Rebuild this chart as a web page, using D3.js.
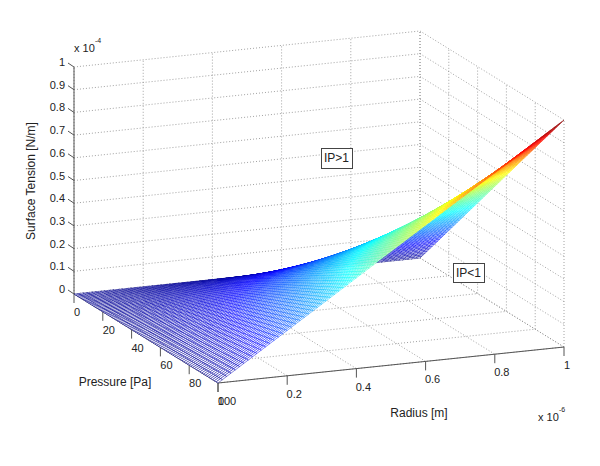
<!DOCTYPE html>
<html>
<head>
<meta charset="utf-8">
<script src="https://cdn.jsdelivr.net/npm/d3@7/dist/d3.min.js"></script>
<style>
  html, body { margin: 0; padding: 0; background: #fff; }
  svg { display: block; }
  text { font-family: "Liberation Sans", Arial, sans-serif; fill: #222; }
</style>
</head>
<body>
<svg id="chart" width="600" height="466"></svg>
<script>
// values
const radiusTicks = [0, 0.2, 0.4, 0.6, 0.8, 1];           // x 10^-6 m
const pressureTicks = [0, 20, 40, 60, 80, 100];           // Pa
const tensionTicks = [0, 0.1, 0.2, 0.3, 0.4, 0.5, 0.6, 0.7, 0.8, 0.9, 1]; // x 10^-4 N/m

// surface tension at each pressure tick (rows) and radius tick (columns)
const tension = [
  [0, 0,    0,    0,    0,    0],
  [0, 0.04, 0.08, 0.12, 0.16, 0.2],
  [0, 0.08, 0.16, 0.24, 0.32, 0.4],
  [0, 0.12, 0.24, 0.36, 0.48, 0.6],
  [0, 0.16, 0.32, 0.48, 0.64, 0.8],
  [0, 0.2,  0.4,  0.6,  0.8,  1]
];

const svg = d3.select("#chart");

// oblique box: each axis is a scale to a pixel offset along x and y
const origin = [74, 294];
const rX = d3.scaleLinear().domain([0, 1]).range([0, 346]);
const rY = d3.scaleLinear().domain([0, 1]).range([0, -36]);
const pX = d3.scaleLinear().domain([0, 100]).range([0, 144]);
const pY = d3.scaleLinear().domain([0, 100]).range([0, 89]);
const zY = d3.scaleLinear().domain([0, 1]).range([0, -227]);

function project(r, p, z) {
  return [origin[0] + rX(r) + pX(p), origin[1] + rY(r) + pY(p) + zY(z)];
}

const jet = d3.scaleLinear()
  .domain([0, 0.125, 0.375, 0.625, 0.875, 1])
  .range(["#00008f", "#0000ff", "#00ffff", "#ffff00", "#ff0000", "#800000"]);

// grid on the two walls and the floor
const grid = svg.append("g")
  .attr("fill", "none")
  .attr("stroke", "#8a8a8a")
  .attr("stroke-width", 0.8)
  .attr("stroke-dasharray", "1 2");

function gridLine(a, b) {
  grid.append("line")
    .attr("x1", a[0]).attr("y1", a[1])
    .attr("x2", b[0]).attr("y2", b[1]);
}

tensionTicks.forEach(z => {
  gridLine(project(0, 0, z), project(1, 0, z));
  gridLine(project(1, 0, z), project(1, 100, z));
});
radiusTicks.forEach(r => {
  gridLine(project(r, 0, 0), project(r, 0, 1));
  gridLine(project(r, 0, 0), project(r, 100, 0));
});
pressureTicks.forEach(p => {
  gridLine(project(1, p, 0), project(1, p, 1));
  gridLine(project(0, p, 0), project(1, p, 0));
});

// axis lines and ticks
const axes = svg.append("g").attr("stroke", "#555").attr("stroke-width", 1).attr("fill", "none");

function axisLine(a, b) {
  axes.append("line")
    .attr("x1", a[0]).attr("y1", a[1])
    .attr("x2", b[0]).attr("y2", b[1]);
}

axisLine(project(0, 0, 0), project(0, 0, 1));
axisLine(project(0, 0, 0), project(0, 100, 0));
axisLine(project(0, 100, 0), project(1, 100, 0));

pressureTicks.forEach(p => {
  const a = project(0, p, 0);
  axisLine(a, [a[0], a[1] + 9]);
});
radiusTicks.forEach(r => {
  const a = project(r, 100, 0);
  axisLine(a, [a[0], a[1] + 9]);
});
tensionTicks.forEach(z => {
  const a = project(0, 0, z);
  axisLine(a, [a[0] - 6, a[1] - 4]);
});

// surface, drawn far to near. The mesh subdivides the table above for drawing
const meshSize = 80;
const rowOf = d3.scaleLinear().domain([0, 100]).range([0, pressureTicks.length - 1]);
const colOf = d3.scaleLinear().domain([0, 1]).range([0, radiusTicks.length - 1]);

function tensionAt(r, p) {
  const a = rowOf(p), b = colOf(r);
  const i = Math.min(Math.floor(a), tension.length - 2);
  const j = Math.min(Math.floor(b), tension[0].length - 2);
  const lo = d3.interpolateNumber(tension[i][j], tension[i][j + 1])(b - j);
  const hi = d3.interpolateNumber(tension[i + 1][j], tension[i + 1][j + 1])(b - j);
  return d3.interpolateNumber(lo, hi)(a - i);
}

const meshR = d3.range(meshSize + 1).map(d => d / meshSize);
const meshP = d3.range(meshSize + 1).map(d => d * 100 / meshSize);
const surface = svg.append("g").attr("stroke-width", 0.5).attr("fill", "#fff");
const line = d3.line();

for (let j = meshSize - 1; j >= 0; j--) {
  for (let i = 0; i < meshSize; i++) {
    const corners = [
      [meshR[j], meshP[i]], [meshR[j + 1], meshP[i]],
      [meshR[j + 1], meshP[i + 1]], [meshR[j], meshP[i + 1]]
    ];
    const zs = corners.map(c => tensionAt(c[0], c[1]));
    surface.append("path")
      .attr("d", line(corners.map((c, k) => project(c[0], c[1], zs[k]))) + "Z")
      .attr("stroke", jet(d3.mean(zs)));
  }
}

// tick labels
const labels = svg.append("g").attr("font-size", 11).attr("text-anchor", "middle");

tensionTicks.forEach(z => {
  const a = project(0, 0, z);
  labels.append("text")
    .attr("x", 65).attr("y", a[1] - 1)
    .attr("text-anchor", "end")
    .text(z);
});
pressureTicks.forEach((p, i) => {
  const a = project(0, p, 0);
  labels.append("text")
    .attr("x", a[0] + (i === 0 ? 3 : p === 100 ? 9 : 6)).attr("y", a[1] + 22)
    .text(p);
});
radiusTicks.forEach(r => {
  const a = project(r, 100, 0);
  labels.append("text")
    .attr("x", a[0] + (r === 0 || r === 1 ? 3 : 7)).attr("y", a[1] + 22)
    .text(r);
});

// axis titles
const titles = svg.append("g").attr("font-size", 12).attr("text-anchor", "middle");
titles.append("text").attr("x", 115).attr("y", 386).text("Pressure [Pa]");
titles.append("text").attr("x", 419).attr("y", 417).text("Radius [m]");
titles.append("text")
  .attr("transform", "translate(35,181) rotate(-90)")
  .text("Surface Tension [N/m]");

// exponents
function exponent(x, y, power) {
  const g = svg.append("g");
  g.append("text").attr("x", x).attr("y", y).attr("font-size", 11).text("x 10");
  g.append("text").attr("x", x + 21).attr("y", y - 9).attr("font-size", 7).text(power);
}
exponent(74, 52, "-4");
exponent(538, 421, "-6");

// annotations
function note(x, y, w, h, label) {
  svg.append("rect")
    .attr("x", x + 0.5).attr("y", y + 0.5)
    .attr("width", w).attr("height", h)
    .attr("fill", "#fff").attr("stroke", "#444").attr("stroke-width", 1);
  svg.append("text")
    .attr("x", x + w / 2).attr("y", y + h / 2 + 4)
    .attr("text-anchor", "middle").attr("font-size", 12)
    .text(label);
}
note(321, 148, 31, 20, "IP>1");
note(453, 263, 31, 19, "IP<1");
</script>
</body>
</html>
